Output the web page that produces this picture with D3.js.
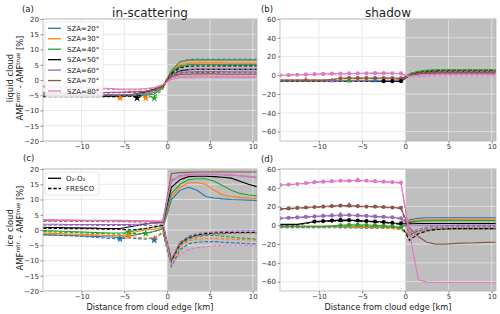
<!DOCTYPE html>
<html>
<head>
<meta charset="utf-8">
<script src="https://cdn.jsdelivr.net/npm/d3@7"></script>
<style>
  body { margin: 0; background: #fff; }
  svg { display: block; font-family: "DejaVu Sans", sans-serif; }
</style>
</head>
<body>
<svg width="500" height="314"></svg>
<script>
// distance from cloud edge [km], shared by every series
const dist = [-14.5,-13.5,-12.5,-11.5,-10.5,-9.5,-8.5,-7.5,-6.5,-5.5,-4.5,-3.5,-2.5,-1.5,-0.5,
              0.5,1.5,2.5,3.5,4.5,5.5,6.5,7.5,8.5,9.5,10.5];

const szaLabels = ["SZA=20°","SZA=30°","SZA=40°","SZA=50°","SZA=60°","SZA=70°","SZA=80°"];
const szaColors = ["#1f77b4","#ff7f0e","#2ca02c","#000000","#9467bd","#8c564b","#e377c2"];
const methodLabels = ["O\u2082-O\u2082", "FRESCO"];

// ---- (a) liquid cloud, in-scattering ----
const liqInO2 = [
  [-5.0,-5.0,-5.0,-5.0,-5.0,-5.0,-5.0,-5.0,-5.0,-5.0,-5.0,-5.0,-4.8,-4.0,-2.0, 2.5,4.5,5.0,5.1,5.1,5.1,5.0,5.0,5.0,5.0,5.0],
  [-5.1,-5.1,-5.1,-5.1,-5.1,-5.1,-5.1,-5.1,-5.1,-5.0,-4.8,-4.5,-4.0,-3.0,-1.8, 2.8,5.0,5.5,5.6,5.6,5.6,5.6,5.5,5.5,5.5,5.5],
  [-5.2,-5.2,-5.2,-5.2,-5.2,-5.2,-5.2,-5.2,-5.2,-5.2,-5.2,-5.1,-5.0,-4.6,-2.5, 2.6,4.6,5.0,5.1,5.1,5.1,5.0,5.0,5.0,5.0,5.0],
  [-5.3,-5.3,-5.3,-5.3,-5.3,-5.3,-5.3,-5.3,-5.3,-5.2,-5.0,-4.5,-3.8,-3.0,-2.0, 1.8,3.0,3.4,3.5,3.5,3.5,3.5,3.5,3.5,3.5,3.5],
  [-4.8,-4.8,-4.8,-4.8,-4.8,-4.8,-4.8,-4.8,-4.8,-4.8,-4.8,-4.6,-4.2,-3.5,-2.0, 1.5,2.4,2.7,2.8,2.8,2.8,2.8,2.7,2.7,2.7,2.7],
  [-4.2,-4.2,-4.2,-4.2,-4.2,-4.2,-4.1,-4.1,-4.0,-4.0,-3.9,-3.8,-3.6,-3.2,-2.0, 1.0,1.8,1.9,2.0,2.0,2.0,1.9,1.9,1.9,1.9,1.9],
  [-2.0,-2.1,-2.2,-2.3,-2.4,-2.5,-2.6,-2.7,-2.8,-3.0,-3.0,-3.0,-2.8,-2.5,-1.5, 0.2,0.8,0.9,1.0,1.0,0.9,0.9,0.9,0.8,0.8,0.8]
];
const liqInFresco = [
  [-5.3,-5.3,-5.3,-5.3,-5.3,-5.3,-5.3,-5.3,-5.3,-5.3,-5.3,-5.3,-5.2,-4.5,-2.5, 3.0,6.0,6.7,6.8,6.8,6.8,6.8,6.8,6.8,6.8,6.8],
  [-5.4,-5.4,-5.4,-5.4,-5.4,-5.4,-5.4,-5.4,-5.4,-5.5,-5.0,-4.8,-5.2,-4.0,-2.2, 2.8,5.8,6.3,6.4,6.4,6.4,6.4,6.4,6.4,6.4,6.4],
  [-5.4,-5.4,-5.4,-5.4,-5.4,-5.4,-5.4,-5.4,-5.4,-5.4,-5.4,-5.3,-5.4,-5.5,-3.0, 3.0,6.0,6.5,6.6,6.6,6.6,6.6,6.6,6.6,6.6,6.6],
  [-5.5,-5.5,-5.5,-5.5,-5.5,-5.5,-5.5,-5.5,-5.5,-5.4,-5.2,-5.5,-4.0,-3.2,-2.2, 2.2,4.0,4.5,4.6,4.6,4.6,4.6,4.6,4.6,4.6,4.6],
  [-5.0,-5.0,-5.0,-5.0,-5.0,-5.0,-5.0,-5.0,-5.0,-5.0,-5.0,-4.8,-4.4,-3.6,-2.0, 1.8,3.2,3.5,3.5,3.5,3.5,3.5,3.5,3.4,3.4,3.4],
  [-4.4,-4.4,-4.4,-4.4,-4.4,-4.4,-4.3,-4.3,-4.2,-4.2,-4.1,-4.0,-3.8,-3.4,-2.2, 1.2,2.2,2.4,2.5,2.5,2.5,2.4,2.4,2.4,2.4,2.4],
  [-2.3,-2.4,-2.5,-2.6,-2.7,-2.8,-2.9,-3.0,-3.1,-3.2,-3.3,-3.3,-3.0,-2.6,-1.6, 0.4,1.1,1.2,1.3,1.3,1.2,1.2,1.2,1.1,1.1,1.1]
];
// [sza index, distance, value]
const liqInStars = [[1,-5.5,-5.9],[3,-3.5,-5.9],[1,-2.5,-5.9],[2,-1.5,-5.9]];

// ---- (b) liquid cloud, shadow ----
const liqShO2 = [
  [-5.5,-5.5,-5.5,-5.5,-5.5,-5.5,-5.5,-5.5,-5.5,-5.5,-5.5,-5.5,-5.5,-5.5,-5.0, 0.5,2.5,3.5,4.0,4.2,4.3,4.3,4.3,4.3,4.3,4.3],
  [-5.3,-5.3,-5.3,-5.3,-5.3,-5.3,-5.3,-5.3,-5.3,-5.3,-5.3,-5.3,-5.3,-5.3,-4.8, 0.8,2.8,3.8,4.3,4.5,4.5,4.5,4.5,4.5,4.5,4.5],
  [-5.8,-5.8,-5.8,-5.8,-5.8,-5.8,-5.8,-5.8,-5.8,-5.8,-5.8,-5.8,-5.8,-5.8,-5.2, 1.5,4.0,5.0,5.5,5.6,5.6,5.6,5.6,5.6,5.6,5.6],
  [-5.8,-5.8,-5.8,-5.8,-5.8,-5.8,-5.8,-5.8,-5.8,-5.8,-5.8,-6.0,-6.2,-6.3,-6.3, 0.0,2.0,3.0,3.5,3.6,3.6,3.6,3.6,3.6,3.6,3.6],
  [-5.5,-5.5,-5.5,-5.5,-5.5,-5.5,-5.5,-5.5,-5.5,-5.5,-5.5,-5.5,-5.5,-5.5,-5.0, 0.0,1.5,2.5,3.0,3.1,3.1,3.1,3.1,3.1,3.1,3.1],
  [-5.0,-5.0,-5.0,-5.0,-5.0,-5.0,-4.5,-3.2,-3.0,-3.0,-3.0,-3.0,-3.0,-3.0,-3.2, 0.2,1.5,2.0,2.2,2.3,2.3,2.3,2.3,2.3,2.3,2.3],
  [0.0,0.3,0.6,0.9,1.2,1.5,1.7,1.8,2.0,2.1,2.2,2.3,2.3,2.2,2.0, -1.0,0.0,0.5,0.8,1.0,1.0,1.0,1.0,1.0,1.0,1.0]
];
const liqShFresco = [
  [-5.6,-5.6,-5.6,-5.6,-5.6,-5.6,-5.6,-5.6,-5.6,-5.6,-5.6,-5.6,-5.6,-5.6,-5.2, 1.0,3.5,4.8,5.3,5.5,5.5,5.5,5.5,5.5,5.5,5.5],
  [-5.4,-5.4,-5.4,-5.4,-5.4,-5.4,-5.4,-5.4,-5.4,-5.4,-5.4,-5.4,-5.4,-5.4,-5.0, 1.0,3.2,4.5,5.0,5.0,5.0,5.0,5.0,5.0,5.0,5.0],
  [-6.0,-6.0,-6.0,-6.0,-6.0,-6.0,-6.0,-6.0,-6.0,-6.0,-6.0,-6.0,-6.0,-6.0,-5.5, 2.0,4.5,5.6,6.0,6.1,6.1,6.1,6.1,6.1,6.1,6.1],
  [-6.0,-6.0,-6.0,-6.0,-6.0,-6.0,-6.0,-6.0,-6.0,-6.0,-6.0,-6.0,-6.0,-6.0,-6.5, 0.5,2.8,4.0,4.4,4.5,4.5,4.5,4.5,4.5,4.5,4.5],
  [-5.6,-5.6,-5.6,-5.6,-5.6,-5.6,-5.6,-5.6,-5.6,-5.6,-5.6,-5.6,-5.6,-5.6,-5.2, 0.3,2.2,3.4,3.8,4.0,4.0,4.0,4.0,4.0,4.0,4.0],
  [-5.2,-5.2,-5.2,-5.2,-5.2,-5.2,-4.6,-3.4,-3.2,-3.2,-3.2,-3.2,-3.2,-3.2,-3.4, 0.0,1.8,2.6,2.9,3.0,3.0,3.0,3.0,3.0,3.0,3.0],
  [-0.2,0.1,0.4,0.7,1.0,1.3,1.5,1.6,1.8,1.9,2.0,2.1,2.1,2.0,1.8, -2.0,-1.2,-0.8,-0.5,-0.4,-0.4,-0.4,-0.4,-0.4,-0.4,-0.4]
];
// circles on O2-O2 line: [sza index, first shadowed distance]
const liqShDots = [[6,-14.5],[5,-7.5],[3,-2.5]];
// triangles on O2-O2 line: [sza index, distance]
const liqShTris = [[5,-11.5],[4,-8.5],[2,-6.5],[0,-3.5]];

// ---- (c) ice cloud, in-scattering ----
const iceInO2 = [
  [-1.5,-1.6,-1.7,-1.8,-1.9,-2.0,-2.1,-2.2,-2.3,-2.5,-2.0,-1.5,-1.0,-0.5,0.5, 10.0,13.0,14.0,13.0,11.0,10.5,10.2,10.0,9.9,9.8,9.7],
  [-1.0,-1.1,-1.2,-1.3,-1.4,-1.5,-1.6,-1.7,-1.8,-1.9,-1.5,-0.5,0.0,0.3,1.0, 11.0,14.0,15.5,15.5,15.0,13.0,11.5,11.0,10.7,10.5,10.3],
  [-0.2,-0.3,-0.4,-0.5,-0.6,-0.7,-0.8,-0.9,-1.0,-1.0,-0.8,0.0,0.5,1.0,1.5, 12.0,15.0,16.5,16.8,16.8,16.0,14.5,13.0,12.0,11.5,11.2],
  [0.9,0.8,0.8,0.7,0.7,0.6,0.6,0.5,0.5,0.5,1.0,1.5,2.0,2.3,2.5, 14.0,16.5,17.5,17.6,17.6,17.5,17.3,17.0,16.0,15.0,14.2],
  [1.9,1.9,1.9,1.8,1.8,1.8,1.8,1.8,1.8,1.8,1.8,1.9,2.0,2.2,2.5, 16.0,17.8,18.2,18.3,18.3,18.2,18.1,18.0,17.8,17.5,17.2],
  [3.2,3.2,3.2,3.2,3.1,3.1,3.1,3.1,3.1,3.0,3.0,3.0,2.9,2.8,2.8, 18.5,18.8,18.9,19.0,19.0,19.0,19.0,19.0,19.0,19.0,19.0],
  [3.4,3.4,3.3,3.3,3.3,3.2,3.2,3.2,3.2,3.2,3.1,3.0,3.0,3.0,3.0, 16.5,17.5,18.0,18.2,18.3,18.3,18.2,18.0,17.8,17.6,17.4]
];
const iceInFresco = [
  [-1.6,-1.7,-1.8,-1.9,-2.0,-2.2,-2.4,-2.6,-2.8,-3.0,-2.6,-2.8,-3.0,-2.5,-1.0, -12.0,-6.5,-4.5,-4.0,-3.8,-3.8,-4.0,-4.2,-4.3,-4.5,-4.6],
  [-1.2,-1.3,-1.4,-1.5,-1.6,-1.7,-1.8,-1.9,-2.0,-2.1,-2.2,-2.4,-2.6,-2.8,-0.5, -11.0,-5.5,-3.5,-3.0,-2.8,-2.8,-2.9,-3.0,-3.1,-3.2,-3.3],
  [-0.5,-0.6,-0.7,-0.8,-0.9,-1.0,-1.1,-1.2,-1.3,-1.4,-1.0,-1.2,-1.2,-0.5,0.5, -10.5,-5.0,-3.0,-2.2,-1.8,-1.8,-2.0,-2.3,-2.6,-2.8,-3.0],
  [0.5,0.5,0.5,0.4,0.4,0.4,0.4,0.3,0.3,0.3,0.0,0.2,0.5,1.0,1.5, -10.0,-4.5,-2.5,-1.6,-1.2,-1.0,-0.9,-0.8,-0.8,-0.8,-0.8],
  [1.6,1.6,1.6,1.6,1.6,1.6,1.5,1.5,1.5,1.5,1.5,1.5,1.5,1.5,2.0, -9.5,-4.0,-2.0,-1.2,-0.8,-0.6,-0.5,-0.4,-0.3,-0.3,-0.3],
  [2.8,2.8,2.8,2.8,2.8,2.8,2.8,2.8,2.7,2.7,2.7,2.6,2.6,2.5,2.5, -10.0,-4.5,-2.5,-1.8,-1.5,-1.3,-1.2,-1.1,-1.0,-1.0,-1.0],
  [3.0,3.0,3.0,3.0,3.0,3.0,3.0,3.0,3.0,2.9,2.9,2.9,2.8,2.8,2.8, -11.5,-8.0,-6.5,-5.8,-5.5,-5.2,-5.0,-5.0,-5.0,-5.1,-5.2]
];
const iceInStars = [[0,-5.5,-2.9],[2,-4.5,-0.7],[1,-4.5,-2.0],[2,-2.5,-1.1],[1,-1.5,-2.9],[0,-1.5,-3.3]];

// ---- (d) ice cloud, shadow ----
const iceShO2 = [
  [-1.5,-1.5,-1.5,-1.5,-1.5,-1.5,-1.6,-1.7,-1.8,-1.9,-2.0,-2.0,-2.0,-2.2,-2.5, 6.0,7.5,8.0,8.0,8.0,8.0,8.0,8.0,8.0,8.0,8.0],
  [-1.0,-1.0,-1.0,-1.0,-1.0,-1.0,-1.0,-1.0,-1.2,-1.3,-1.4,-1.5,-1.8,-2.2,-3.0, 4.5,5.5,6.0,6.0,6.2,6.3,6.4,6.5,6.5,6.5,6.5],
  [-1.0,-1.0,-1.0,-1.0,-1.0,-1.0,-0.5,0.0,0.5,0.5,0.3,0.0,-0.5,-1.0,-2.0, 3.5,4.5,5.0,5.0,5.0,5.0,5.0,5.0,5.0,5.0,5.0],
  [1.0,1.0,1.0,2.5,4.0,4.5,5.0,5.5,5.5,5.0,4.5,4.0,3.5,2.5,2.0, 2.5,2.0,2.0,2.0,2.0,2.0,2.0,2.0,2.0,2.0,2.0],
  [7.5,8.0,8.5,9.0,9.5,10.0,10.5,11.0,11.0,10.5,10.0,9.5,9.0,8.5,7.5, 0.5,0.0,0.0,0.0,0.0,0.0,0.0,0.0,0.0,0.0,0.0],
  [17.5,18.0,18.5,19.0,19.5,20.0,20.5,21.0,21.0,20.5,20.0,20.0,19.5,19.0,18.5, -3.0,-12.0,-18.0,-20.0,-20.0,-19.5,-19.0,-18.8,-18.5,-18.2,-18.0],
  [43.0,43.5,44.0,45.0,46.0,46.5,47.0,47.5,47.5,48.0,47.5,47.0,46.5,46.0,45.5, -8.0,-58.0,-60.5,-61.0,-61.0,-61.0,-61.0,-61.0,-61.0,-61.0,-61.5]
];
const iceShFresco = [
  [-2.5,-2.5,-2.5,-2.5,-2.5,-2.5,-2.6,-2.7,-2.8,-2.9,-3.0,-3.0,-3.0,-3.2,-4.0, -12.0,-7.0,-5.0,-4.5,-4.2,-4.0,-4.0,-3.8,-3.8,-3.8,-3.8],
  [-1.8,-1.8,-1.8,-1.8,-1.8,-1.8,-1.8,-1.8,-2.0,-2.2,-2.4,-2.6,-3.0,-3.5,-4.5, -11.0,-6.5,-4.8,-4.2,-4.0,-3.8,-3.6,-3.5,-3.5,-3.5,-3.5],
  [-1.5,-1.5,-1.5,-1.5,-1.5,-1.5,-1.2,-0.8,-0.5,-0.5,-0.7,-1.0,-1.5,-2.0,-3.0, -10.5,-6.0,-4.2,-3.5,-3.2,-3.0,-3.0,-3.0,-3.0,-3.0,-3.0],
  [0.5,0.5,0.5,2.0,3.5,4.0,4.5,5.0,5.0,4.5,4.0,3.5,3.0,2.0,1.0, -16.0,-9.0,-6.0,-4.5,-4.0,-3.5,-3.5,-3.5,-3.5,-3.5,-3.5],
  [7.0,7.5,8.0,8.5,9.0,9.5,10.0,10.5,10.5,10.0,9.5,9.0,8.5,8.0,7.0, -8.0,-4.0,-2.0,-1.0,-0.5,-0.2,0.0,0.0,0.0,0.0,0.0],
  [17.0,17.5,18.0,18.5,19.0,19.5,20.0,20.5,20.5,20.0,19.5,19.5,19.0,18.5,18.0, -10.0,-6.0,-3.5,-2.5,-2.0,-1.8,-1.6,-1.5,-1.5,-1.5,-1.5],
  [42.5,43.0,43.5,44.5,45.5,46.0,46.5,47.0,47.0,47.5,47.0,46.5,46.0,45.5,45.0, -12.0,-7.0,-4.0,-3.0,-2.5,-2.2,-2.0,-2.0,-2.0,-2.0,-2.0]
];
const iceShDots = [[6,-14.5],[5,-14.5],[4,-14.5],[3,-10.5],[2,-7.5]];
const iceShTris = [[6,-5.5],[5,-6.5],[4,-7.5],[3,-7.5]];

const xTicks = [-10, -5, 0, 5, 10];
const yTicksIn = [-20, -15, -10, -5, 0, 5, 10, 15, 20];
const yTicksSh = [-60, -40, -20, 0, 20, 40, 60];

const panels = [
  {tag: "(a)", tagX: 22, tagY: 12, left: 43, top: 19, w: 214, h: 122, yDomain: [-20, 20], yTicks: yTicksIn,
   o2: liqInO2, fresco: liqInFresco, stars: liqInStars, title: "in-scattering", ylabel: "liquid cloud", legend: "sza"},
  {tag: "(b)", tagX: 261, tagY: 11.5, left: 280, top: 19, w: 216, h: 122, yDomain: [-70, 60], yTicks: yTicksSh,
   o2: liqShO2, fresco: liqShFresco, dots: liqShDots, tris: liqShTris, title: "shadow"},
  {tag: "(c)", tagX: 23, tagY: 161, left: 43, top: 169, w: 214, h: 122, yDomain: [-20, 20], yTicks: yTicksIn,
   o2: iceInO2, fresco: iceInFresco, stars: iceInStars, ylabel: "ice cloud", xlabel: true, legend: "method"},
  {tag: "(d)", tagX: 261, tagY: 161.5, left: 280, top: 169, w: 216, h: 122, yDomain: [-70, 60], yTicks: yTicksSh,
   o2: iceShO2, fresco: iceShFresco, dots: iceShDots, tris: iceShTris, xlabel: true}
];

const svg = d3.select("svg");
const textCol = "#333";

panels.forEach((p, pi) => {
  const x = d3.scaleLinear().domain([-14.5, 10.5]).range([0, p.w]);
  const y = d3.scaleLinear().domain(p.yDomain).range([p.h, 0]);
  const g = svg.append("g").attr("transform", `translate(${p.left},${p.top})`);

  g.append("clipPath").attr("id", "clip" + pi)
    .append("rect").attr("width", p.w).attr("height", p.h);

  // cloud area shading
  g.append("rect").attr("x", x(0)).attr("y", 0)
    .attr("width", p.w - x(0)).attr("height", p.h).attr("fill", "#bfbfbf");

  // grid
  g.append("g").selectAll("line").data(xTicks).join("line")
    .attr("x1", d => x(d)).attr("x2", d => x(d)).attr("y1", 0).attr("y2", p.h)
    .attr("stroke", "#e4e4e4").attr("stroke-width", 0.8);
  g.append("g").selectAll("line").data(p.yTicks).join("line")
    .attr("y1", d => y(d)).attr("y2", d => y(d)).attr("x1", 0).attr("x2", p.w)
    .attr("stroke", "#e4e4e4").attr("stroke-width", 0.8);

  const plot = g.append("g").attr("clip-path", `url(#clip${pi})`);
  const line = d3.line().x((d, i) => x(dist[i])).y(d => y(d));

  szaColors.forEach((c, i) => {
    plot.append("path").attr("d", line(p.o2[i]))
      .attr("fill", "none").attr("stroke", c).attr("stroke-width", 1.1);
    plot.append("path").attr("d", line(p.fresco[i]))
      .attr("fill", "none").attr("stroke", c).attr("stroke-width", 1.1)
      .attr("stroke-dasharray", "3.5,1.8");
  });

  const valAt = (i, xv) => p.o2[i][dist.indexOf(xv)];

  if (p.dots) {
    p.dots.forEach(([i, from]) => {
      const pts = dist.filter(d => d >= from && d < 0);
      plot.append("g").selectAll("circle").data(pts).join("circle")
        .attr("cx", d => x(d)).attr("cy", d => y(valAt(i, d)))
        .attr("r", 2.1).attr("fill", szaColors[i]);
    });
  }
  if (p.tris) {
    p.tris.forEach(([i, xv]) => {
      plot.append("path").attr("d", d3.symbol(d3.symbolTriangle, 16)())
        .attr("transform", `translate(${x(xv)},${y(valAt(i, xv))})`)
        .attr("fill", szaColors[i]).attr("fill-opacity", 0.8);
    });
  }
  if (p.stars) {
    p.stars.forEach(([i, xv, yv]) => {
      plot.append("path").attr("d", d3.symbol(d3.symbolStar, 20)())
        .attr("transform", `translate(${x(xv)},${y(yv)})`)
        .attr("fill", szaColors[i]);
    });
  }

  // frame
  g.append("rect").attr("width", p.w).attr("height", p.h)
    .attr("fill", "none").attr("stroke", "#b5b5b5").attr("stroke-width", 0.8);

  // axes
  const ax = g.append("g").attr("transform", `translate(0,${p.h})`)
    .call(d3.axisBottom(x).tickValues(xTicks).tickSize(2.5).tickPadding(1));
  const ay = g.append("g")
    .call(d3.axisLeft(y).tickValues(p.yTicks).tickSize(2.5).tickPadding(1.5));
  [ax, ay].forEach(a => {
    a.select(".domain").remove();
    a.selectAll("line").attr("stroke", "#666").attr("stroke-width", 0.7);
    a.selectAll("text").attr("fill", textCol).style("font-size", "7px")
      .style("font-family", "DejaVu Sans");
  });

  // panel tag and title
  svg.append("text").attr("x", p.tagX).attr("y", p.tagY)
    .attr("fill", "#222").style("font-size", "8.5px").text(p.tag);
  if (p.title) {
    svg.append("text").attr("x", p.left + p.w / 2).attr("y", 16.5)
      .attr("text-anchor", "middle").attr("fill", "#222").style("font-size", "12px").text(p.title);
  }
  if (p.xlabel) {
    svg.append("text").attr("x", p.left + p.w / 2).attr("y", 309.5)
      .attr("text-anchor", "middle").attr("fill", "#222").style("font-size", "8.2px")
      .text("Distance from cloud edge [km]");
  }
  if (p.ylabel) {
    const cy = p.top + p.h / 2 - 2;
    svg.append("text").attr("transform", `translate(12.5,${cy}) rotate(-90)`)
      .attr("text-anchor", "middle").attr("fill", "#222").style("font-size", "8.4px")
      .text(p.ylabel);
    const t = svg.append("text").attr("transform", `translate(22.5,${cy}) rotate(-90)`)
      .attr("text-anchor", "middle").attr("fill", "#222").style("font-size", "8.4px");
    t.append("tspan").text("AMF");
    t.append("tspan").attr("dy", -3).style("font-size", "5.8px").text("retr.");
    t.append("tspan").attr("dy", 3).text(" - AMF");
    t.append("tspan").attr("dy", -3).style("font-size", "5.8px").text("true");
    t.append("tspan").attr("dy", 3).text(" [%]");
  }

  // legends
  if (p.legend === "sza") {
    const lg = svg.append("g").attr("transform", "translate(45,22)");
    lg.append("rect").attr("width", 58).attr("height", 75).attr("rx", 2)
      .attr("fill", "#fff").attr("fill-opacity", 0.85).attr("stroke", "#dcdcdc").attr("stroke-width", 0.7);
    szaLabels.forEach((s, i) => {
      const yy = 6.3 + i * 10.45;
      lg.append("line").attr("x1", 3).attr("x2", 16).attr("y1", yy).attr("y2", yy)
        .attr("stroke", szaColors[i]).attr("stroke-width", 1.3);
      lg.append("text").attr("x", 22).attr("y", yy + 2.5).attr("fill", "#222")
        .style("font-size", "7px").text(s);
    });
  }
  if (p.legend === "method") {
    const lg = svg.append("g").attr("transform", "translate(45,172)");
    lg.append("rect").attr("width", 54).attr("height", 23).attr("rx", 2)
      .attr("fill", "#fff").attr("fill-opacity", 0.85).attr("stroke", "#dcdcdc").attr("stroke-width", 0.7);
    methodLabels.forEach((s, i) => {
      const yy = 6.3 + i * 10.2;
      lg.append("line").attr("x1", 3).attr("x2", 16).attr("y1", yy).attr("y2", yy)
        .attr("stroke", "#000").attr("stroke-width", 1.3)
        .attr("stroke-dasharray", i === 1 ? "3.5,1.8" : null);
      lg.append("text").attr("x", 21).attr("y", yy + 2.5).attr("fill", "#222")
        .style("font-size", "7px").text(s);
    });
  }
});
</script>
</body>
</html>
